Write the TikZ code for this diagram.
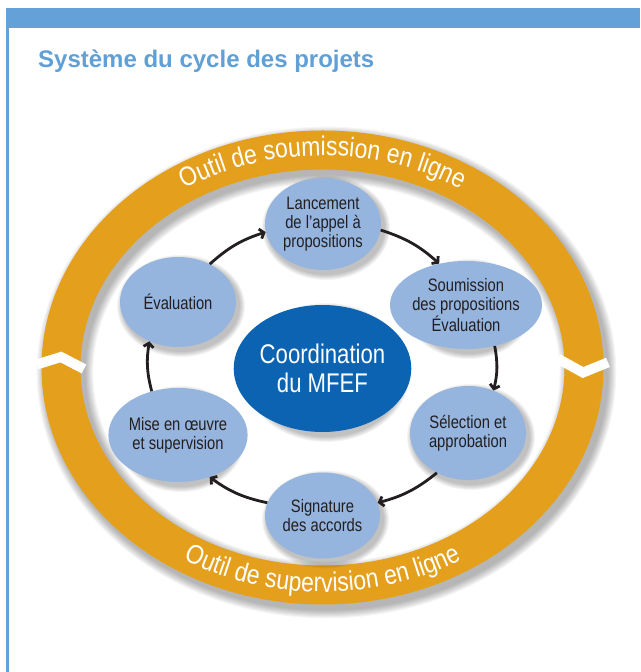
\documentclass[tikz,border=0pt]{standalone}
\usepackage{fontspec}
\setmainfont{Liberation Sans}
\newfontfamily\condf{Liberation Sans}[FakeStretch=0.82]
\newfontfamily\ringf{Liberation Sans}[FakeStretch=0.85]
\usetikzlibrary{arrows.meta,decorations.text,shapes.geometric}
\definecolor{frameblue}{RGB}{100,161,216}
\definecolor{titleblue}{RGB}{96,160,214}
\definecolor{ringor}{RGB}{228,160,28}
\definecolor{bubblec}{RGB}{149,180,222}
\definecolor{centerblue}{RGB}{11,99,177}
\definecolor{textc}{RGB}{35,31,32}
\newcommand\mybubble[6]{%
  \foreach \k in {1,...,6}{\fill[black,opacity=0.045] ({#2+3},{#3-4}) ellipse[x radius={#4+7-\k}, y radius={#5+7-\k}];}
  \node[bubble, minimum width={2*#4}, minimum height={2*#5}] (#1) at (#2,#3) {#6};}
\begin{document}
\begin{tikzpicture}[x=1pt,y=1pt,
  bubble/.style={ellipse, fill=bubblec, inner sep=0pt, align=center, text=textc,
    font=\condf\fontsize{18}{19}\selectfont},
  arr/.style={draw=textc, line width=2.8pt, -{Straight Barb[length=4pt,width=10pt]}}]
\useasboundingbox (0,0) rectangle (640,672);
\fill[white] (0,0) rectangle (640,672);
% frame
\fill[frameblue] (6,644) rectangle (640,664);
\fill[frameblue] (6,0) rectangle (8.5,664);
\node[anchor=base west, inner sep=0pt, text=titleblue, font=\fontsize{24}{28}\selectfont\bfseries] (title) at (38,604) {Système du cycle des projets};
% ring
\coordinate (ringc) at (322.5,304.5);
\foreach \k in {1,...,8}{\draw[black,opacity=0.04,line width={39+2.2*\k}] (326.5,299.5) ellipse[x radius=261.5, y radius=217.5];}
\draw[ringor, line width=39pt] (ringc) ellipse[x radius=261.5, y radius=217.5];
\draw[white, line width=10pt, line join=miter] (37,307.6) -- (61,315) -- (84,303);
\draw[white, line width=10pt, line join=miter] (558,313.2) -- (583,299.5) -- (608,309.6);
\path[decorate, decoration={text along path, text align=center,
  text={|\ringf\fontsize{27}{30}\selectfont\color{white}|Outil de soumission en ligne}}]
  (141.48,454.4) arc[start angle=135, end angle=45, x radius=256, y radius=212];
\path[decorate, decoration={text along path, text align=center,
  text={|\ringf\fontsize{27}{30}\selectfont\color{white}|Outil de supervision en ligne}}]
  (132.64,145.76) arc[start angle=225, end angle=315, x radius=268.5, y radius=224.5];
% bubbles
\mybubble{la}{323}{448}{58}{46}{Lancement\\de l’appel à\\propositions}
\mybubble{so}{466}{367}{57}{44}{Soumission\\des propositions\\Évaluation}
\mybubble{se}{468}{239}{58}{47}{Sélection et\\approbation}
\mybubble{si}{322.5}{156.5}{57.5}{43}{Signature\\des accords}
\mybubble{mi}{178}{237}{58}{47}{Mise en œuvre\\et supervision}
\mybubble{ev}{178}{370}{58}{45}{Évaluation}
\foreach \k in {1,...,6}{\fill[black,opacity=0.045] (326.5,299.5) ellipse[x radius={84.5-\k}, y radius={70.5-\k}];}
\node[ellipse, fill=centerblue, inner sep=0pt, minimum width=155pt, minimum height=127pt, align=center, text=white,
  font=\condf\fontsize{27}{29}\selectfont] (co) at (322.5,303.5) {Coordination\\du MFEF};
% arrows
\draw[arr] (ev.50) to[bend left=12] (la.188);
\draw[arr] (la.-6) to[bend left=12] (so.123);
\draw[arr] (so.-55) to[bend left=12] (se.59);
\draw[arr] (se.232) to[bend left=12] (si.13);
\draw[arr] (si.167) to[bend left=12] (mi.-53);
\draw[arr] (mi.121) to[bend left=12] (ev.234);
\end{tikzpicture}
\end{document}
